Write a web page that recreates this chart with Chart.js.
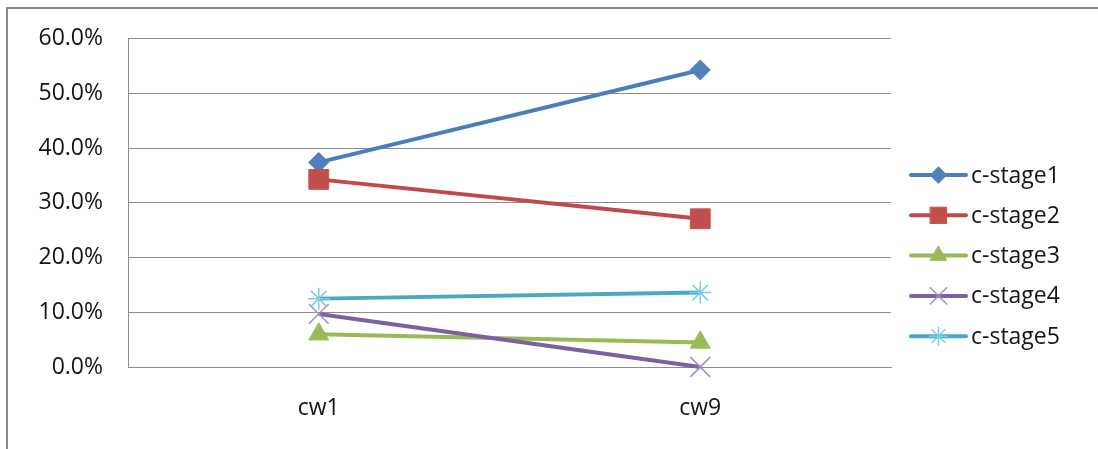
<!DOCTYPE html>
<html>
<head>
<meta charset="utf-8">
<script src="https://cdn.jsdelivr.net/npm/chart.js@4/dist/chart.umd.min.js"></script>
<style>
  html, body { margin: 0; padding: 0; background: #fff; overflow: hidden; }
  #wrap { position: relative; width: 1098px; height: 449px; }
  #frame { position: absolute; left: 6px; top: 7px; width: 1200px; height: 600px;
           border: 2px solid #8a8a8a; box-sizing: border-box; }
  canvas { position: absolute; left: 0; top: 0; }
</style>
</head>
<body>
<div id="wrap">
  <div id="frame"></div>
  <canvas id="c" width="1098" height="449"></canvas>
</div>
<script>
// Weekly share of each stage (percent)
const categories = ['cw1', 'cw9'];
const seriesNames = ['c-stage1', 'c-stage2', 'c-stage3', 'c-stage4', 'c-stage5'];
const stage1 = [37.4, 54.3];
const stage2 = [34.3, 27.1];
const stage3 = [6.0, 4.5];
const stage4 = [9.7, 0.0];
const stage5 = [12.5, 13.6];
const yTicks = [0, 10, 20, 30, 40, 50, 60];

const FONT = "'Open Sans', 'Liberation Sans', sans-serif";
const TEXT = '#141414';
const GRID = '#8c8c8c';

const styles = [
  { line: '#4A7EBB', fill: '#4F81BD', stroke: '#4F81BD', point: 'rectRot', r: 10, bw: 1 },
  { line: '#BE4B48', fill: '#C0504D', stroke: '#C0504D', point: 'rect', r: 14, bw: 1 },
  { line: '#98B954', fill: '#9BBB59', stroke: '#9BBB59', point: 'triangle', r: 11.5, bw: 1 },
  { line: '#7D60A0', fill: '#A08FC8', stroke: '#A08FC8', point: 'crossRot', r: 14, bw: 1.5 },
  { line: '#46AAC5', fill: '#7ACDE2', stroke: '#7ACDE2', point: 'star', r: 11, bw: 1.5 }
];

const values = [stage1, stage2, stage3, stage4, stage5];

const datasets = values.map((v, i) => ({
  label: seriesNames[i],
  data: v,
  borderColor: styles[i].line,
  borderWidth: 4,
  pointStyle: styles[i].point,
  pointRadius: styles[i].r,
  pointHoverRadius: styles[i].r,
  pointBackgroundColor: styles[i].fill,
  pointBorderColor: styles[i].stroke,
  pointBorderWidth: styles[i].bw,
  tension: 0,
  clip: false,
  order: values.length - i
}));

// Legend on the right: line sample with marker, then the series name
const sideLegend = {
  id: 'sideLegend',
  afterDraw(chart) {
    const ctx = chart.ctx;
    const area = chart.chartArea;
    const x0 = area.right + 20;
    const x1 = x0 + 55;
    const mid = (x0 + x1) / 2;
    const yStart = 175;
    const step = 40.3;
    ctx.save();
    chart.data.datasets.forEach((ds, i) => {
      const y = yStart + i * step;
      ctx.strokeStyle = ds.borderColor;
      ctx.lineWidth = 4;
      ctx.lineCap = 'round';
      ctx.beginPath();
      ctx.moveTo(x0, y);
      ctx.lineTo(x1, y);
      ctx.stroke();
      ctx.fillStyle = ds.pointBackgroundColor;
      ctx.strokeStyle = ds.pointBorderColor;
      ctx.lineWidth = ds.pointBorderWidth;
      Chart.helpers.drawPoint(ctx, {
        pointStyle: ds.pointStyle,
        rotation: 0,
        radius: ds.pointRadius * 0.82,
        borderWidth: ds.pointBorderWidth
      }, mid, y);
      ctx.fillStyle = TEXT;
      ctx.font = '23px ' + FONT;
      ctx.textAlign = 'left';
      ctx.textBaseline = 'middle';
      ctx.fillText(ds.label, x1 + 5, y + 1);
    });
    ctx.restore();
  }
};

new Chart(document.getElementById('c'), {
  type: 'line',
  data: { labels: categories, datasets },
  plugins: [sideLegend],
  options: {
    responsive: false,
    animation: false,
    layout: { padding: { top: 37, right: 207, bottom: 0, left: 0 } },
    plugins: { legend: { display: false }, tooltip: { enabled: false } },
    scales: {
      x: {
        type: 'category',
        offset: true,
        grid: { display: false, drawTicks: false },
        border: { display: true, color: GRID, width: 1 },
        ticks: { padding: 28, color: TEXT, font: { family: FONT, size: 23 } },
        afterFit(s) { s.height = 82; }
      },
      y: {
        min: 0,
        max: 60,
        afterBuildTicks(s) { s.ticks = yTicks.map(v => ({ value: v })); },
        grid: { color: GRID, lineWidth: 1, drawTicks: false },
        border: { display: true, color: GRID, width: 1 },
        ticks: {
          padding: 25,
          color: TEXT,
          font: { family: FONT, size: 23 },
          callback: v => v.toFixed(1) + '%'
        },
        afterFit(s) { s.width = 128; }
      }
    }
  }
});
</script>
</body>
</html>
